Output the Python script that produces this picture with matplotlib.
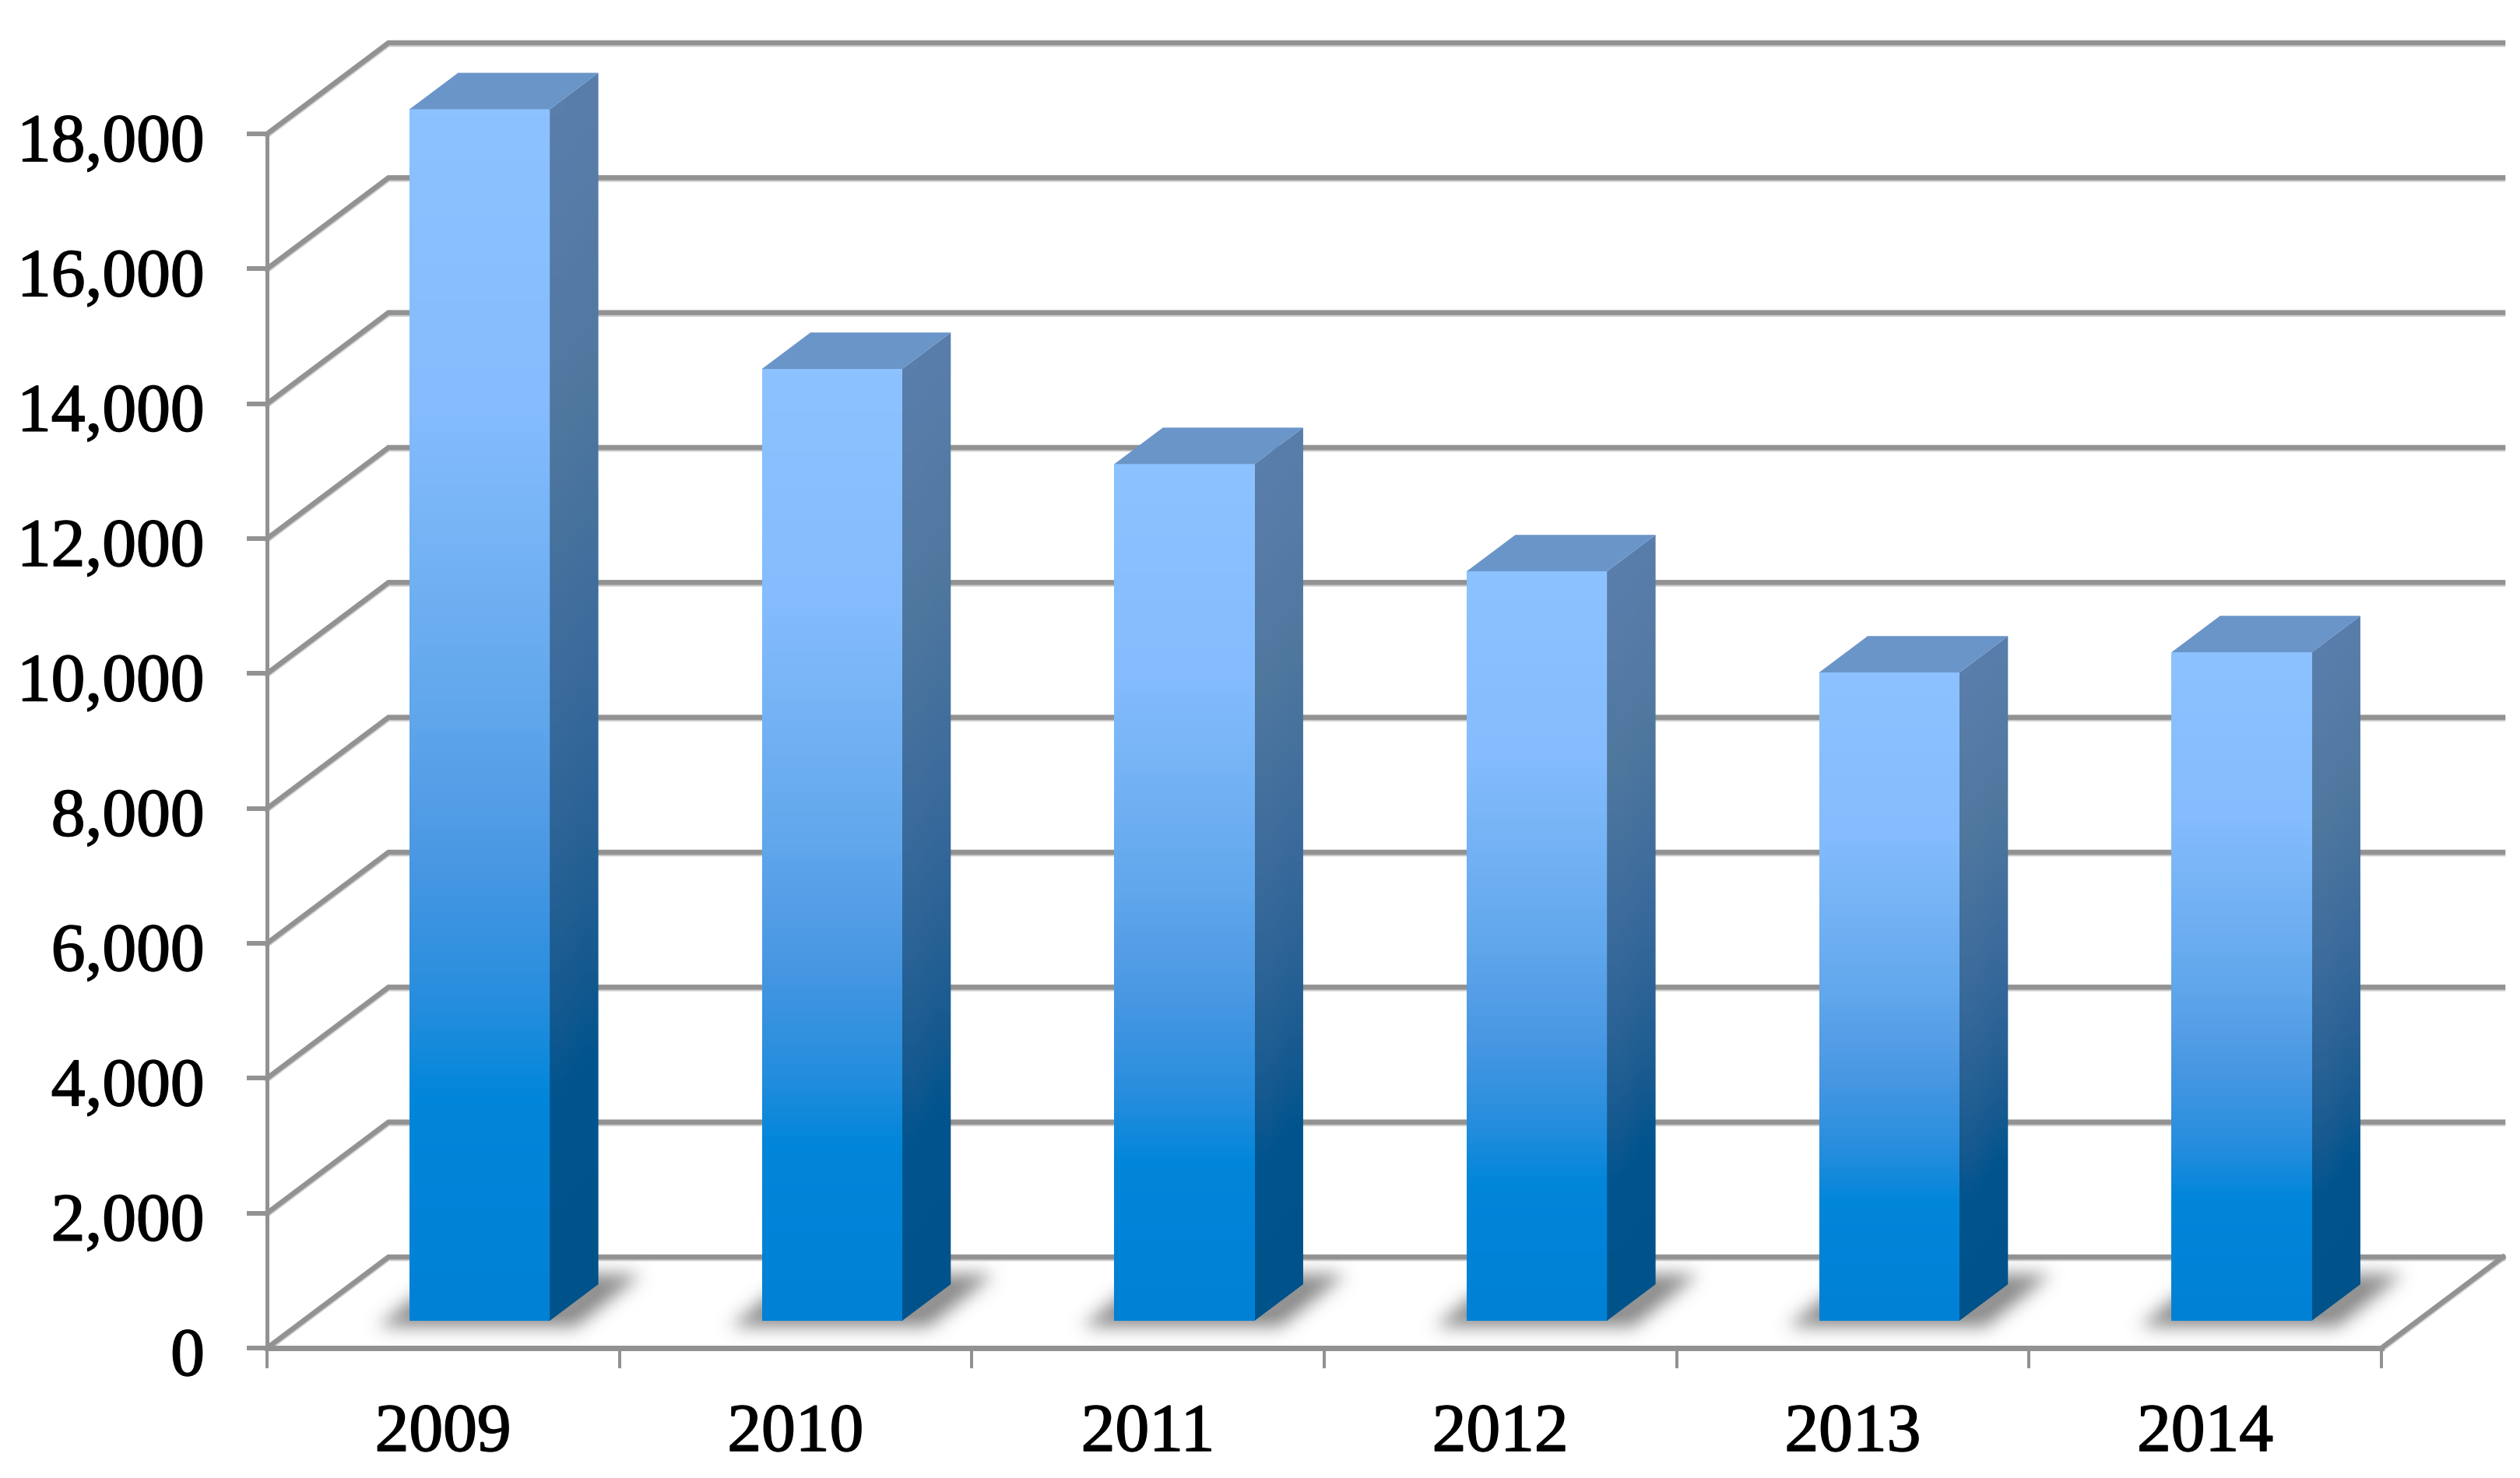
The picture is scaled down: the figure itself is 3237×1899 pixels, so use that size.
import numpy as np
import matplotlib
matplotlib.use('Agg')
import matplotlib.pyplot as plt
import matplotlib.patheffects as pe
from matplotlib.colors import LinearSegmentedColormap
from matplotlib.patches import Polygon
from matplotlib.transforms import ScaledTranslation

# data
years = ['2009', '2010', '2011', '2012', '2013', '2014']
values = [17960, 14110, 12700, 11110, 9610, 9910]
y_ticks = [0, 2000, 4000, 6000, 8000, 10000, 12000, 14000, 16000, 18000]

W, H = 3237, 1899
# front plane of the box in pixels
LEFT, RIGHT, BOTTOM, TOP = 343, 3059, 1732, 172
PX_X = (RIGHT - LEFT) / 6
PX_Y = (BOTTOM - TOP) / 18000
# depth of the box in data units
DX = 156 / PX_X
DY = 117 / PX_Y
BAR_W = 0.398
D_FRONT, D_BACK = 0.3, 0.7

GRID = '#929292'
front_cmap = LinearSegmentedColormap.from_list('front', [
    (0, '#8CC2FF'), (0.25, '#84BCFD'), (0.49, '#62A8EC'), (0.62, '#4A98E3'),
    (0.745, '#248DDD'), (0.82, '#0086DA'), (1, '#0081D6')])
side_cmap = LinearSegmentedColormap.from_list('side', [
    (0, '#5A7EAC'), (0.25, '#50789F'), (0.49, '#3A6A9C'), (0.62, '#2A6295'),
    (0.745, '#14598F'), (0.82, '#00548E'), (1, '#00528A')])

plt.rcParams['font.family'] = ['Liberation Serif', 'DejaVu Serif']

fig = plt.figure(figsize=((W + 0.01) / 100, (H + 0.01) / 100), dpi=100)
ax = fig.add_axes([LEFT / W, 1 - BOTTOM / H, (RIGHT - LEFT) / W, (BOTTOM - TOP) / H])
ax.patch.set_visible(False)


def px(n):
    return n * 72 / 100


def wall_line(xs, ys, lw=6.5):
    ax.plot(xs, ys, color=GRID, lw=px(lw), clip_on=False, zorder=1,
            solid_capstyle='projecting', solid_joinstyle='miter',
            path_effects=[pe.SimpleLineShadow(offset=(0, -1.5), shadow_color='#b8b8b8', alpha=0.7),
                          pe.Normal()])


# gridlines: up the side wall, then along the back wall
for v in y_ticks:
    wall_line([0, DX, 6 + DX], [v, v + DY, v + DY])
wall_line([6, 6 + DX], [0, DY])

# soft shadow mask, one per bar, built in pixels around the bar base
sw, sh = 500, 200
yy, xx = np.mgrid[0:sh, 0:sw]
# parallelogram: bottom edge at row 116, top edge at row 48
mask = (yy > 48) & (yy < 116)
slant = (116 - yy) * 85 / 68
mask = mask & (xx > 58 + slant) & (xx < 312 + slant)
kernel = np.exp(-np.linspace(-3, 3, 67) ** 2 / 2)
kernel = kernel / kernel.sum()
mask = mask.astype(float)
mask = np.apply_along_axis(lambda r: np.convolve(r, kernel, mode='same'), 1, mask)
mask = np.apply_along_axis(lambda r: np.convolve(r, kernel, mode='same'), 0, mask)
shadow = np.zeros((sh, sw, 4))
shadow[..., :3] = 0.58
shadow[..., 3] = np.clip(mask * 1.1, 0, 1)

for i, v in enumerate(values):
    x0 = i + 0.5 - BAR_W / 2 + D_FRONT * DX
    x1 = x0 + BAR_W
    y0 = D_FRONT * DY
    y1 = y0 + v
    ddx = (D_BACK - D_FRONT) * DX
    ddy = (D_BACK - D_FRONT) * DY

    # shadow on the floor, its row 108 sits on the bar base and column 100 on the left edge
    sx0 = x0 - 100 / PX_X
    sy1 = y0 + 108 / PX_Y
    ax.imshow(shadow, extent=(sx0, sx0 + sw / PX_X, sy1 - sh / PX_Y, sy1), aspect='auto',
              interpolation='bilinear', clip_on=False, zorder=2)

    # front face
    grad = np.linspace(0, 1, 256).reshape(-1, 1)
    ax.imshow(grad, cmap=front_cmap, vmin=0, vmax=1, extent=(x0, x1, y0, y1), origin='upper',
              aspect='auto', interpolation='bilinear', clip_on=False, zorder=3)

    # side face, the gradient follows the slant of the face
    rows = np.linspace(y1 + ddy, y0, 256)
    t_front = np.clip((y1 - rows) / v, 0, 1)
    t_back = np.clip((y1 + ddy - rows) / v, 0, 1)
    side = np.column_stack([t_front, t_back])
    face = Polygon([(x1, y0), (x1 + ddx, y0 + ddy), (x1 + ddx, y1 + ddy), (x1, y1)],
                   closed=True, fc='none', ec='none', clip_on=False, zorder=3)
    ax.add_patch(face)
    im = ax.imshow(side, cmap=side_cmap, vmin=0, vmax=1, extent=(x1, x1 + ddx, y0, y1 + ddy),
                   origin='upper', aspect='auto', interpolation='bilinear', zorder=3)
    im.set_clip_box(fig.bbox)
    im.set_clip_path(face)

    # top face
    ax.add_patch(Polygon([(x0, y1), (x1, y1), (x1 + ddx, y1 + ddy), (x0 + ddx, y1 + ddy)],
                         closed=True, fc='#6A95C8', ec='none', clip_on=False, zorder=4))

ax.set_xlim(0, 6)
ax.set_ylim(0, 18000)

for s in ['top', 'right']:
    ax.spines[s].set_visible(False)
ax.spines['left'].set_color(GRID)
ax.spines['left'].set_linewidth(px(5))
ax.spines['bottom'].set_color(GRID)
ax.spines['bottom'].set_linewidth(px(7))
ax.spines['left'].set_zorder(1)
ax.spines['bottom'].set_zorder(1)

ax.set_yticks(y_ticks)
ax.set_yticklabels(['{:,}'.format(t) for t in y_ticks])
ax.tick_params(axis='y', length=px(26), width=px(6), color=GRID, pad=px(54),
               labelsize=63, labelcolor='black')

ax.set_xticks(range(7))
ax.set_xticklabels([])
ax.set_xticks(np.arange(6) + 0.5, minor=True)
ax.set_xticklabels(years, minor=True)
ax.tick_params(axis='x', which='major', length=px(26), width=px(4), color=GRID)
ax.tick_params(axis='x', which='minor', length=0, pad=px(70), labelsize=63, labelcolor='black')

# labels sit a little below their ticks, and read heavier than the plain face
heavy = [pe.withStroke(linewidth=1.2, foreground='black')]
shift = ScaledTranslation(0, -4 / 100, fig.dpi_scale_trans)
for lab in ax.get_yticklabels():
    lab.set_transform(lab.get_transform() + shift)
    lab.set_path_effects(heavy)
for lab in ax.get_xticklabels(minor=True):
    lab.set_path_effects(heavy)

fig.savefig('out.png', dpi=100, facecolor='white')
